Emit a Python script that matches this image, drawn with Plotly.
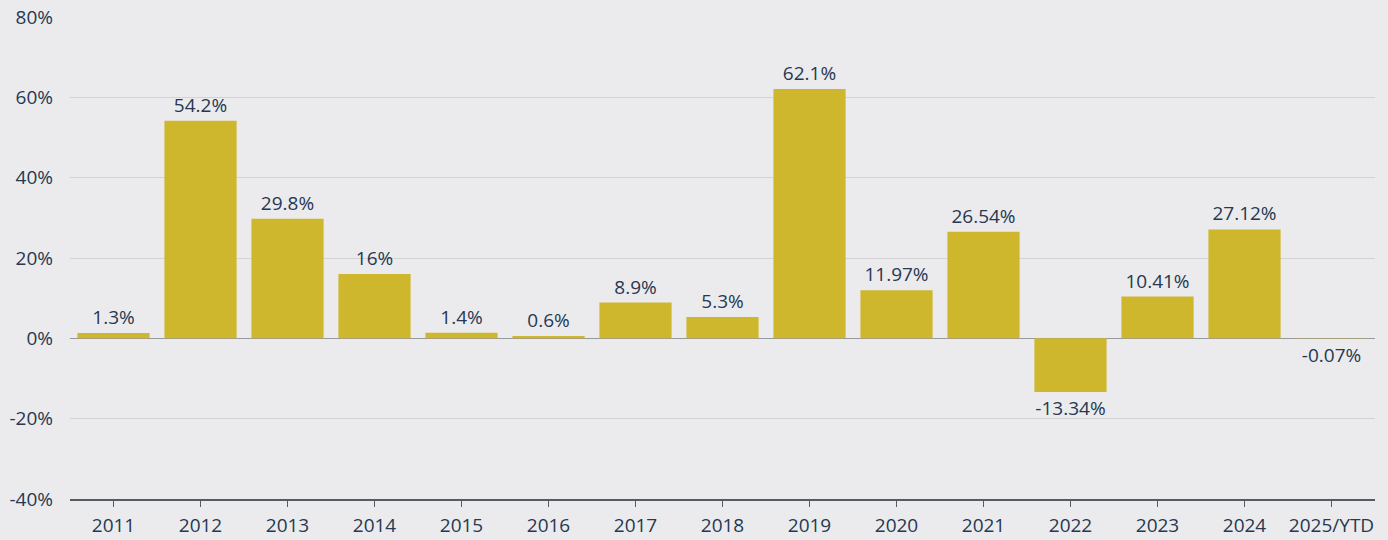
import plotly.graph_objects as go

years = ["2011", "2012", "2013", "2014", "2015", "2016", "2017", "2018",
         "2019", "2020", "2021", "2022", "2023", "2024", "2025/YTD"]
returns = [1.3, 54.2, 29.8, 16, 1.4, 0.6, 8.9, 5.3, 62.1, 11.97, 26.54, -13.34, 10.41, 27.12, -0.07]
labels = ["1.3%", "54.2%", "29.8%", "16%", "1.4%", "0.6%", "8.9%", "5.3%", "62.1%",
          "11.97%", "26.54%", "-13.34%", "10.41%", "27.12%", "-0.07%"]
y_ticks = [-40, -20, 0, 20, 40, 60, 80]
y_tick_text = ["-40%", "-20%", "0%", "20%", "40%", "60%", "80%"]

text_color = "#263852"
bg = "#EBEBED"
FONT = "Open Sans"

fig = go.Figure(go.Bar(
    x=years, y=returns, text=labels, textposition="outside",
    textfont=dict(size=19, color=text_color, family=FONT),
    marker=dict(color="#CEB72D", line=dict(width=0)),
    cliponaxis=False, hoverinfo="skip",
))

fig.update_layout(
    width=1388, height=540,
    margin=dict(l=70, r=13, t=17, b=41, autoexpand=False),
    paper_bgcolor=bg, plot_bgcolor=bg,
    bargap=0.17,
    showlegend=False,
    font=dict(family=FONT, color=text_color, size=19),
    xaxis=dict(
        showgrid=False, showline=True, linecolor="#555B63", linewidth=2,
        ticks="outside", ticklen=6, tickcolor="#555B63", tickwidth=1.5,
        tickfont=dict(size=19, color=text_color), fixedrange=True,
        automargin=False, ticklabelstandoff=2,
    ),
    yaxis=dict(
        range=[-40, 80], tickvals=y_ticks, ticktext=y_tick_text,
        showgrid=True, gridcolor="#D3D3D6", gridwidth=1,
        zeroline=True, zerolinecolor="#98999C", zerolinewidth=1.5,
        tickfont=dict(size=19, color=text_color), ticks="", ticklabelstandoff=16,
        fixedrange=True, automargin=False,
    ),
)

fig.write_html("out.html", config={"displayModeBar": False, "staticPlot": True},
               post_script="document.body.style.margin='0';document.body.style.overflow='hidden';")
